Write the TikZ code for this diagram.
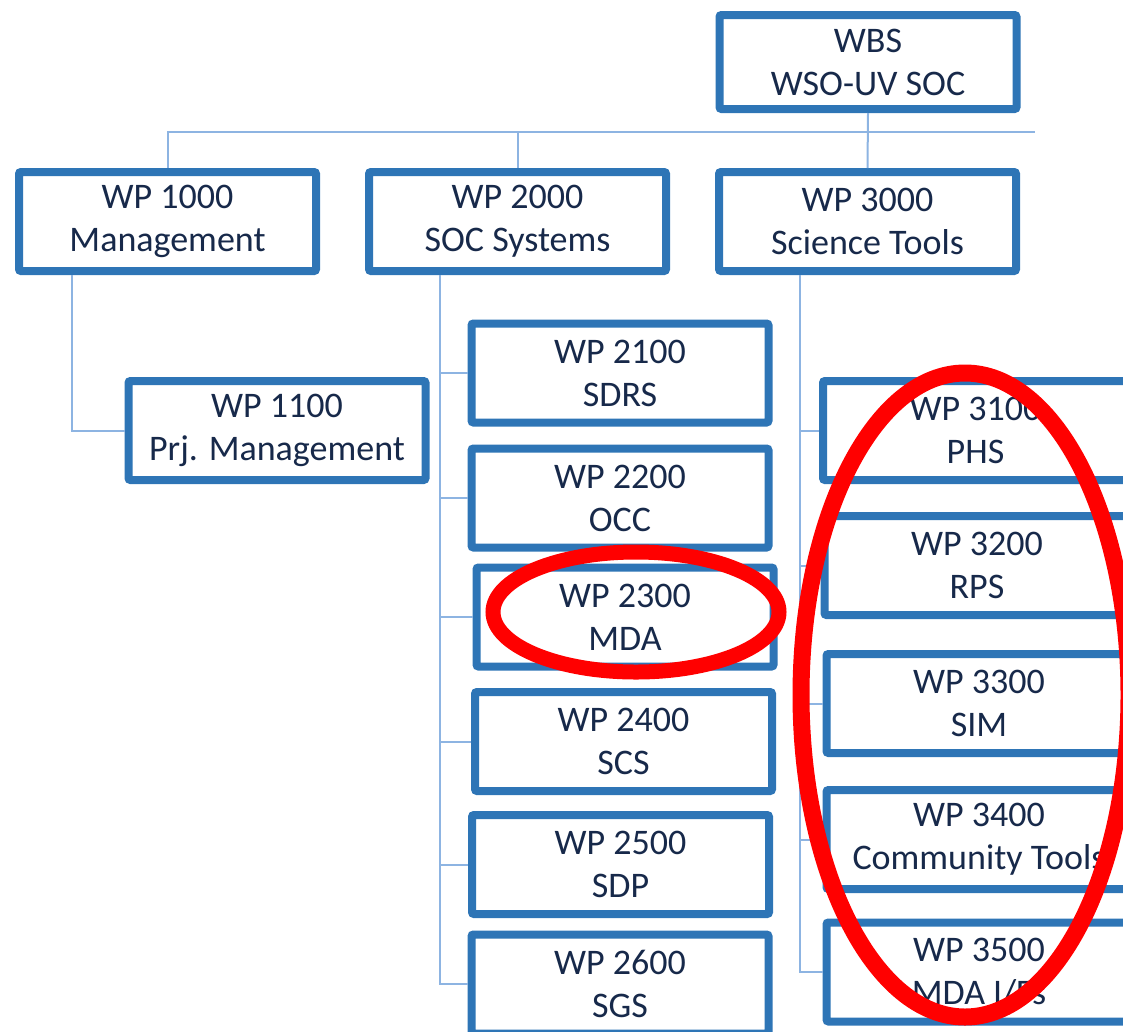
\documentclass[tikz,border=0pt]{standalone}
\usepackage{fontspec}
\setmainfont{Carlito}
\usepackage{xcolor}
\usepackage{tikz}
\usetikzlibrary{positioning}
\definecolor{wpblue}{HTML}{2E75B6}
\definecolor{wptext}{HTML}{17294A}
\definecolor{linkblue}{HTML}{8DB4E2}
\tikzset{
  wp/.style={draw=wpblue, line width=8pt, rounded corners=2pt, fill=white, align=center,
             text=wptext, minimum width=297pt, minimum height=99pt,
             font=\fontsize{36}{43}\selectfont},
  wide/.style={wp, minimum width=305pt},
  link/.style={draw=linkblue, line width=2pt},
  ring/.style={draw=red, line width=16pt}
}

\begin{document}
\begin{tikzpicture}[x=1pt, y=-1pt]
  \useasboundingbox (0,0) rectangle (1123,1031);
  \clip (0,0) rectangle (1123,1031);
  % top level
  \node[wp, minimum height=94pt] (wbs) at (868,62) {WBS\\WSO-UV SOC};
  \node[wp] (wp1000) at (167.5,221.5) {WP 1000\\Management};
  \node[wp] (wp2000) at (517.5,221.5) {WP 2000\\SOC Systems};
  \node[wp] (wp3000) at (867.5,221.5) {WP 3000\\Science Tools};
  % WP 1000 branch
  \node[wp] (wp1100) at (277,430.5) {WP 1100\\Prj. Management};
  % WP 2000 branch
  \node[wp] (wp2100) at (620,373) {WP 2100\\SDRS};
  \node[wp] (wp2200) at (620,498) {WP 2200\\OCC};
  \node[wp] (wp2300) at (625,617) {WP 2300\\MDA};
  \node[wp] (wp2400) at (623.5,741.5) {WP 2400\\SCS};
  \node[wp] (wp2500) at (620.5,864.5) {WP 2500\\SDP};
  \node[wp] (wp2600) at (620,984) {WP 2600\\SGS};
  % WP 3000 branch
  \node[wide] (wp3100) at (975.5,430.5) {WP 3100\\PHS};
  \node[wide] (wp3200) at (977,565.5) {WP 3200\\RPS};
  \node[wide] (wp3300) at (979,703.5) {WP 3300\\SIM};
  \node[wide] (wp3400) at (979,839.5) {WP 3400\\Community Tools};
  \node[wide] (wp3500) at (979,972) {WP 3500\\MDA I/Fs};
  % connectors
  \coordinate (busend) at (1035,132);
  \draw[link] (wp1000.north) |- (busend);
  \draw[link] (wp2000.north) -- (wp2000.north |- busend);
  \draw[link] (wbs.south) -- (wp3000.north);
  \draw[link] ([xshift=57pt]wp1000.south west) |- (wp1100.west);
  \foreach \n in {2100,2200,2300,2400,2500,2600}
    \draw[link] ([xshift=75pt]wp2000.south west) |- (wp\n.west);
  \foreach \n in {3100,3200,3300,3400,3500}
    \draw[link] ([xshift=85pt]wp3000.south west) |- (wp\n.west);
  % highlights
  \draw[ring, line width=15pt] (636,612) ellipse [x radius=143pt, y radius=60pt];
  \draw[ring, line width=17pt] (965,695) ellipse [x radius=164pt, y radius=322pt];
\end{tikzpicture}
\end{document}
